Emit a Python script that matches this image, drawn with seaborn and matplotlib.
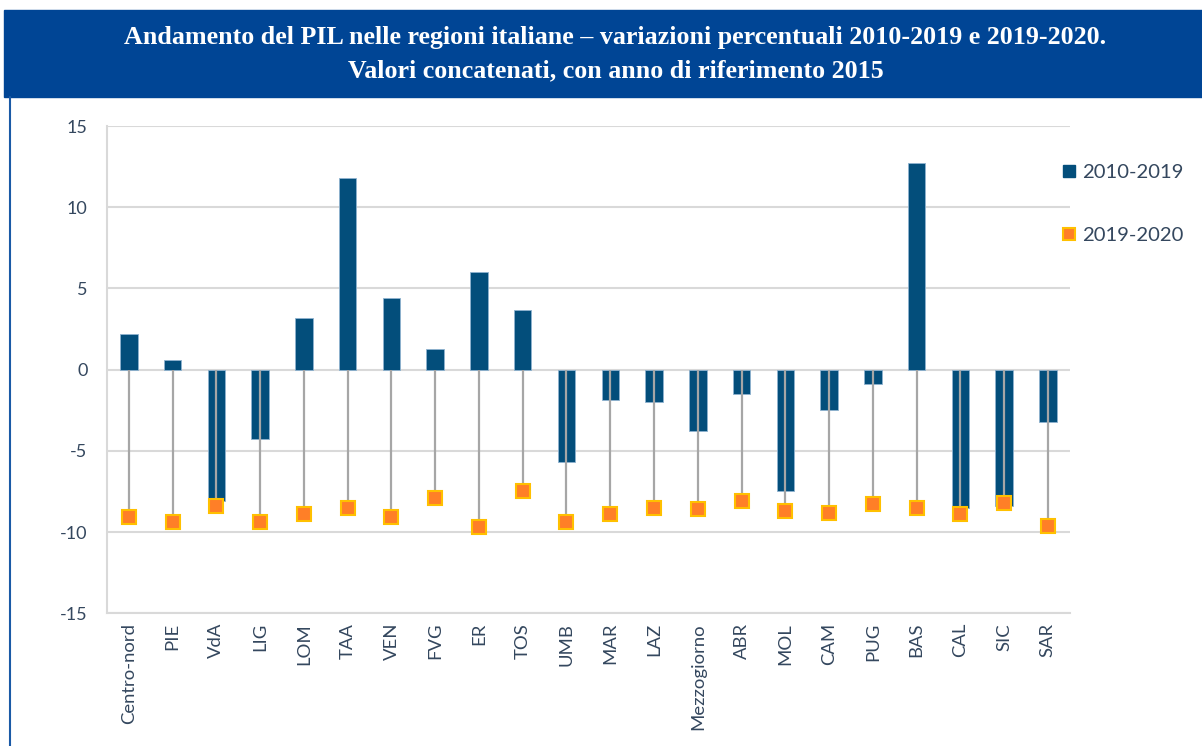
import numpy as np
import matplotlib
matplotlib.use("Agg")
import matplotlib.pyplot as plt
from matplotlib.lines import Line2D
from matplotlib.patches import Rectangle
import seaborn as sns

# data
regions = ["Centro-nord", "PIE", "VdA", "LIG", "LOM", "TAA", "VEN", "FVG", "ER", "TOS",
           "UMB", "MAR", "LAZ", "Mezzogiorno", "ABR", "MOL", "CAM", "PUG", "BAS", "CAL",
           "SIC", "SAR"]
var_2010_2019 = [2.2, 0.6, -8.1, -4.3, 3.2, 11.8, 4.4, 1.3, 6.0, 3.7,
                 -5.7, -1.9, -2.0, -3.8, -1.5, -7.5, -2.5, -0.9, 12.7, -8.5,
                 -8.4, -3.2]
var_2019_2020 = [-9.1, -9.4, -8.4, -9.4, -8.9, -8.5, -9.1, -7.9, -9.7, -7.5,
                 -9.4, -8.9, -8.5, -8.6, -8.1, -8.7, -8.8, -8.3, -8.5, -8.9,
                 -8.2, -9.6]
yticks = [-15, -10, -5, 0, 5, 10, 15]

bar_color = "#034e7b"
txt_color = "#34475e"
grid_color = "#d9d9d9"

sns.set_style("white")
plt.rcParams["font.family"] = ["Lato", "DejaVu Sans"]

fig = plt.figure(figsize=(12.02, 7.46), dpi=100)
ax = fig.add_axes([0.089, 0.178, 0.801, 0.653])

# bars 2010-2019
sns.barplot(x=regions, y=var_2010_2019, color=bar_color, width=0.4,
            edgecolor="#8fb3d0", linewidth=0.6, saturation=1, ax=ax, zorder=2)

# drop lines and markers 2019-2020
pos = np.arange(len(regions))
ax.vlines(pos, 0, var_2019_2020, color="#a6a6a6", linewidth=1.6, zorder=3)
ax.plot(pos, var_2019_2020, linestyle="none", marker="s", markersize=9.5,
        markerfacecolor="#ff7f27", markeredgecolor="#ffc000", markeredgewidth=1.5,
        zorder=4)

ax.set_ylim(-15, 15)
ax.set_xlim(-0.5, len(regions) - 0.5)
ax.set_yticks(yticks)
ax.set_yticklabels([str(t) for t in yticks])
ax.yaxis.grid(True, color=grid_color, linewidth=1.5, zorder=0)
ax.set_axisbelow(True)
ax.tick_params(axis="y", length=0, pad=14, labelsize=13, labelcolor=txt_color)
ax.tick_params(axis="x", length=0, pad=7, labelsize=13.3, labelcolor=txt_color,
               rotation=90)
for s in ["top", "right"]:
    ax.spines[s].set_visible(False)
for s in ["left", "bottom"]:
    ax.spines[s].set_color(grid_color)
    ax.spines[s].set_linewidth(1.5)

# legend
handles = [
    Line2D([], [], linestyle="none", marker="s", markersize=9,
           markerfacecolor=bar_color, markeredgecolor=bar_color),
    Line2D([], [], linestyle="none", marker="s", markersize=9,
           markerfacecolor="#ff7f27", markeredgecolor="#ffc000", markeredgewidth=1.5),
]
fig.legend(handles, ["2010-2019", "2019-2020"], loc="upper left",
           bbox_to_anchor=(0.869, 0.805), frameon=False, fontsize=14.6,
           labelcolor=txt_color, handlelength=0.6, handletextpad=0.35,
           labelspacing=2.25)

# title banner
fig.patches.append(Rectangle((4 / 1202, 1 - 97 / 746), 1 - 4 / 1202, 87 / 746,
                             transform=fig.transFigure, color="#004595", zorder=0))
fig.lines.append(Line2D([10 / 1202, 10 / 1202], [0, 1 - 97 / 746],
                        transform=fig.transFigure, color="#1a5aa6", linewidth=1.5))
fig.text(0.512, 1 - 54 / 746,
         "Andamento del PIL nelle regioni italiane \u2013 variazioni percentuali 2010-2019 e 2019-2020.\n"
         "Valori concatenati, con anno di riferimento 2015",
         ha="center", va="center", color="white", fontsize=18.7, fontweight="bold",
         family="Liberation Serif", linespacing=1.55)

fig.savefig("out.png", dpi=100, facecolor="white")
